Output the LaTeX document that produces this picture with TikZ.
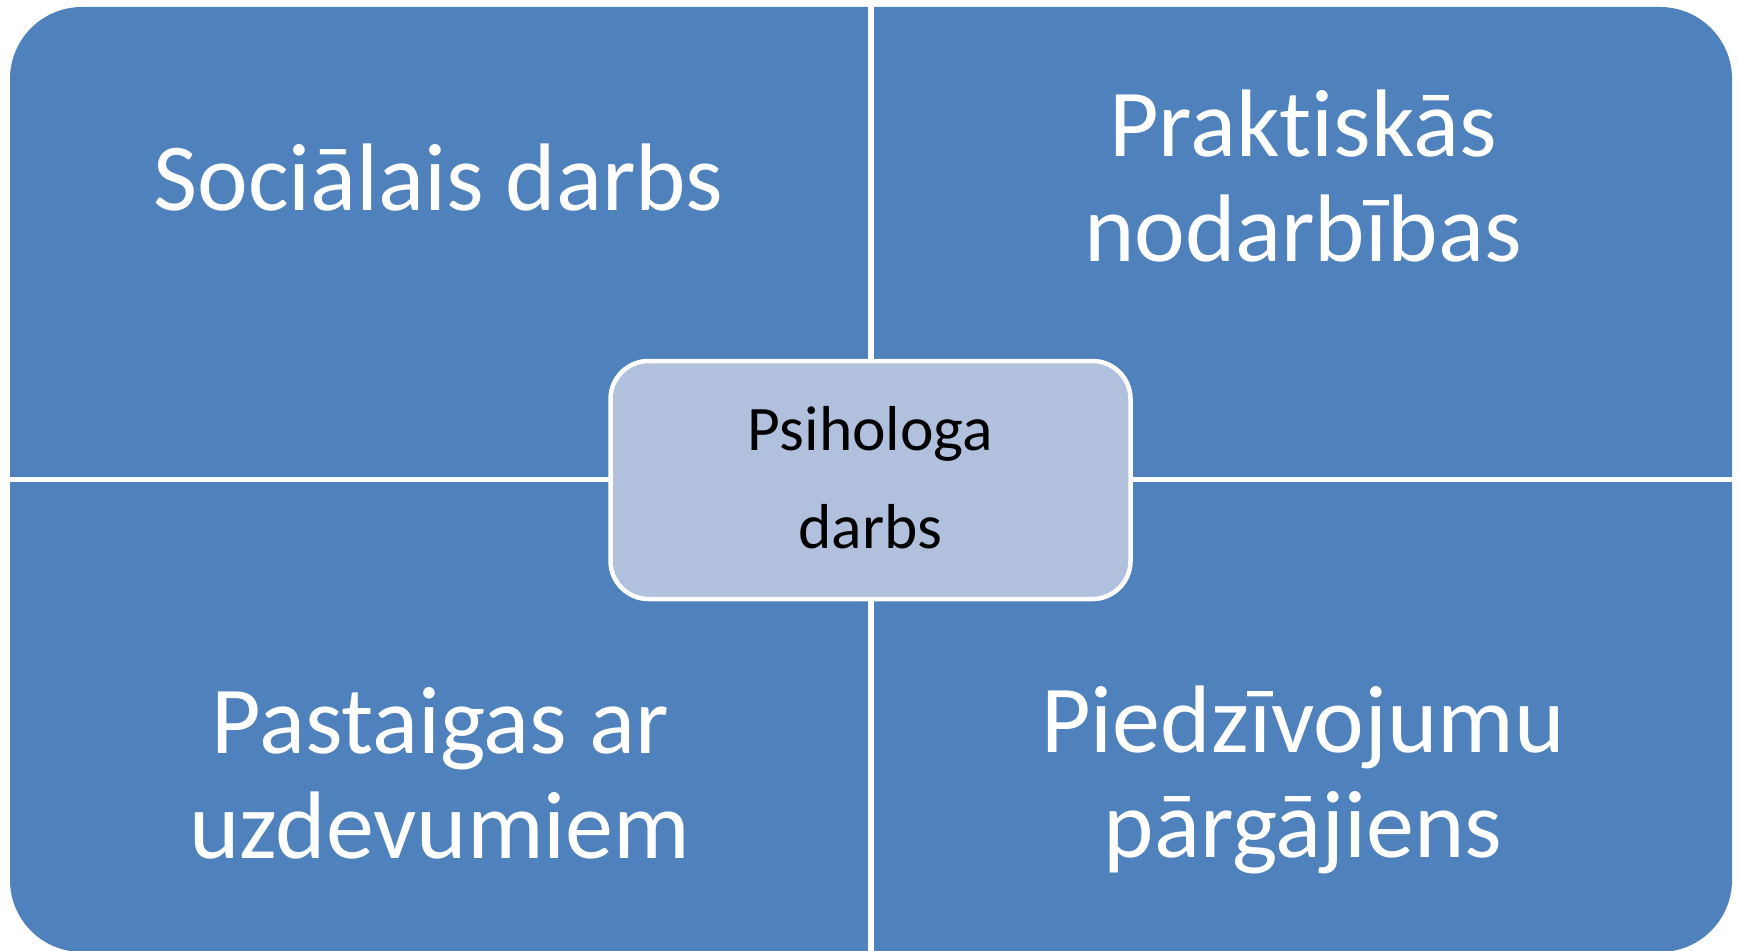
\documentclass[tikz,border=0pt]{standalone}
\usepackage{fontspec}
\setmainfont{Carlito}[Ligatures=NoCommon]
\definecolor{quadblue}{RGB}{79,129,189}
\definecolor{hubfill}{RGB}{177,193,221}
\begin{document}
\begin{tikzpicture}[x=1pt,y=-1pt,
  bigtext/.style={text=white,font=\fontsize{96}{105}\selectfont,align=center,inner sep=0pt},
  hub/.style={draw=white,line width=4.5pt,fill=hubfill,rounded corners=38pt,
    minimum width=520pt,minimum height=238pt,inner sep=0pt,
    font=\fontsize{63.5}{98}\selectfont,align=center,text=black},
  gap/.style={white,line width=5.5pt}]
\useasboundingbox (0,0) rectangle (1739,950);
\fill[quadblue,rounded corners=72pt] (10,7) rectangle (1732,952);
\coordinate (vtop) at (871,0);
\coordinate (vbot) at (871,960);
\coordinate (hleft) at (0,479.5);
\coordinate (hright) at (1739,479.5);
\draw[gap] (vtop) -- (vbot);
\draw[gap] (hleft) -- (hright);
\node[hub] (hub) at (870.5,480) {Psihologa\\darbs\rule[-6pt]{0pt}{6pt}};
\node[bigtext,anchor=base] (q1) at (438.5,210) {Sociālais darbs};
\node[bigtext,anchor=base] (q2) at (1303,261) {Praktiskās\\nodarbības};
\node[bigtext,anchor=base] (q3) at (440,858) {Pastaigas ar\\uzdevumiem};
\node[bigtext,anchor=base] (q4) at (1303,857) {Piedzīvojumu\\pārgājiens};
\end{tikzpicture}
\end{document}
